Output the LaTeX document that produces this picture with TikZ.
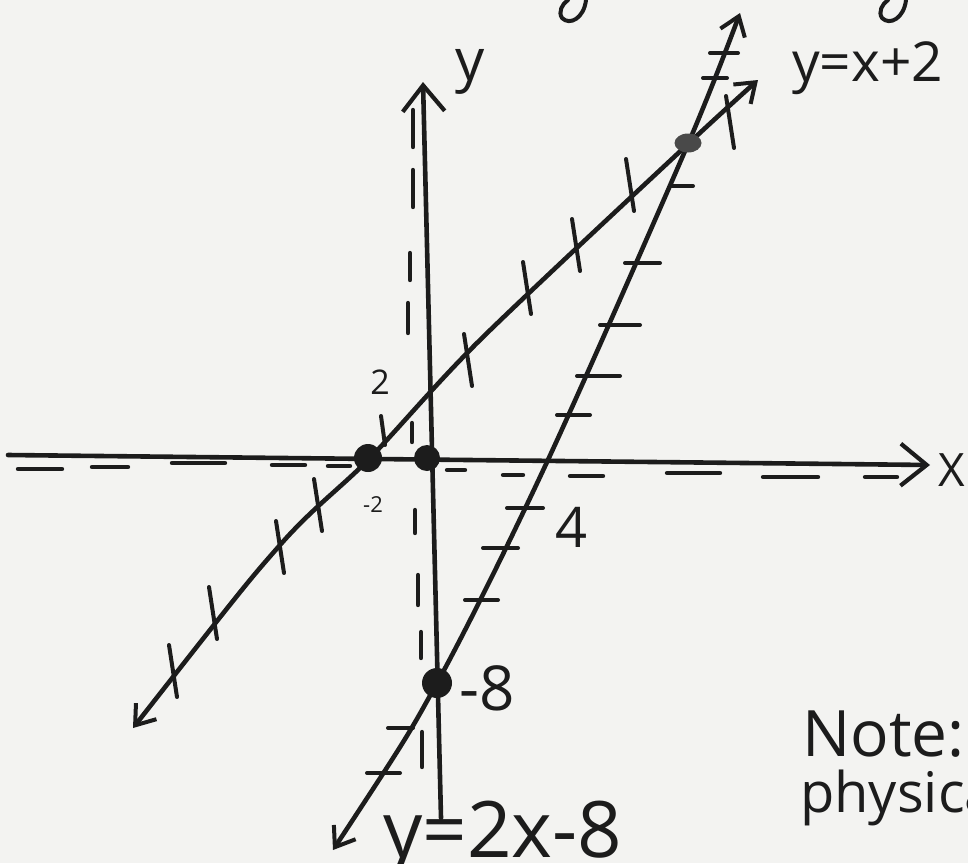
\documentclass[tikz,border=0pt]{standalone}
\usepackage{fontspec}
\setmainfont{Open Sans}
\usetikzlibrary{arrows.meta,shapes.geometric}
\definecolor{paper}{RGB}{243,243,241}
\definecolor{ink}{RGB}{28,28,28}
\begin{document}
\begin{tikzpicture}[x=1pt,y=-1pt,line cap=round,line join=round,
  inkline/.style={line width=4.6pt,draw=ink},
  tickmark/.style={line width=4pt,draw=ink},
  dashmark/.style={line width=4.4pt,draw=ink},
  bigbarb/.style={-{Straight Barb[length=26pt,width=42pt,line width=4.2pt]}},
  smallbarb/.style={{Straight Barb[length=18pt,width=26pt,line width=4pt]}-{Straight Barb[length=18pt,width=26pt,line width=4pt]}},
  dotmark/.style={circle,fill=ink,inner sep=0pt},
  lbl/.style={inner sep=0pt,text=ink}]
\clip (0,0) rectangle (968,863);
\fill[paper] (0,0) rectangle (968,863);

% named points
\coordinate (xl) at (8,455);
\coordinate (xr) at (930,465);
\coordinate (yb) at (441,818);
\coordinate (yt) at (423,82);
\coordinate (a1) at (133,728);
\coordinate (a2) at (280,545);
\coordinate (a3) at (369,459);
\coordinate (a4) at (480,340);
\coordinate (a5) at (688,144);
\coordinate (a6) at (758,80);
\coordinate (b1) at (333,850);
\coordinate (b2) at (437,683);
\coordinate (b3) at (547,462);
\coordinate (b4) at (688,144);
\coordinate (b5) at (740,13);

% dashed guide lines
\foreach \p/\q/\y in {18/62/469,92/128/467,172/225/463,272/305/465,328/350/466,447/465/470,503/523/475,570/603/476,667/720/473,763/818/477,865/897/477}
  \draw[dashmark] (\p,\y) -- (\q,\y);
\foreach \x/\p/\q in {413/110/147,413/170/207,410/253/280,408/303/333,412/423/442,415/510/533,418/575/605,421/632/658,422/732/767}
  \draw[dashmark] (\x,\p) -- (\x,\q);

% axes
\draw[inkline,bigbarb] (xl) -- (xr);
\draw[inkline,bigbarb] (yb) -- (yt);

% lines
\draw[inkline,smallbarb] plot[smooth] coordinates {(a1) (a2) (a3) (a4) (a5) (a6)};
\draw[inkline,smallbarb] plot[smooth] coordinates {(b1) (b2) (b3) (b4) (b5)};

% ticks on y=x+2
\foreach \x/\y in {173/671,213/613,280/547,318/505,468/360,527/288,576/245,630/185,730/122}
  \draw[tickmark] (\x-4,\y-26) -- (\x+4,\y+26);
\draw[tickmark] (381,416) -- (385,445);

% ticks on y=2x-8
\foreach \p/\q/\y in {388/413/728,367/400/773,465/498/600,483/518/548,507/543/508,557/590/415,577/620/376,600/640/325,625/660/263,670/693/186,703/727/78,710/738/53}
  \draw[tickmark] (\p,\y) -- (\q,\y);

% points
\node[dotmark,minimum size=28pt] (d1) at (368,458) {};
\node[dotmark,minimum size=26pt] (d2) at (427,458) {};
\node[dotmark,minimum size=30pt] (d3) at (437,683) {};
\node[ellipse,fill=ink!80,inner sep=0pt,minimum width=27pt,minimum height=19pt] (d4) at (688,143) {};

% descender fragments at top edge
\draw[inkline,line width=4pt] (586,0) .. controls (584,18) and (570,26) .. (562,18) .. controls (558,12) and (562,4) .. (568,0);
\draw[inkline,line width=4pt] (906,0) .. controls (904,18) and (890,26) .. (882,18) .. controls (878,12) and (882,4) .. (888,0);

% labels
\node[lbl,font=\fontsize{58}{58}\selectfont] (ylab) at (470,72) {y};
\node[lbl,font=\fontsize{46}{46}\selectfont,anchor=west] (xlab) at (938,470) {X};
\node[lbl,font=\fontsize{34}{34}\selectfont] (two) at (380,382) {2};
\node[lbl,font=\fontsize{22}{22}\selectfont] (mtwo) at (373,505) {-2};
\node[lbl,font=\fontsize{56}{56}\selectfont] (four) at (572,527) {4};
\node[lbl,font=\fontsize{62}{62}\selectfont] (meight) at (487,688) {-8};
\node[lbl,font=\fontsize{55}{55}\selectfont,anchor=west] (eq1) at (792,68) {y=x+2};
\node[lbl,font=\fontsize{78}{78}\selectfont,anchor=base west] (eq2) at (383,857) {y=2x-8};
\node[lbl,font=\fontsize{64}{64}\selectfont,anchor=base west] (note) at (802,756) {Note:};
\node[lbl,font=\fontsize{56}{56}\selectfont,anchor=base west] (phys) at (800,812) {physical};
\end{tikzpicture}
\end{document}
